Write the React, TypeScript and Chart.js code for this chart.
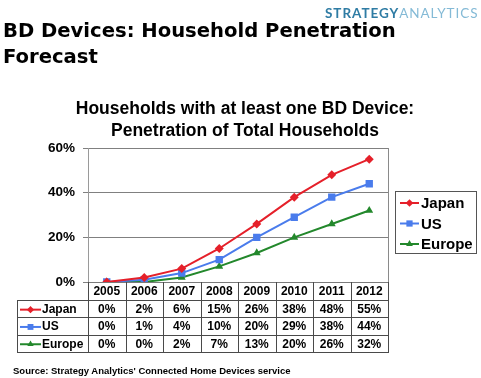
import React, { useEffect, useRef } from 'react';
import { Chart, registerables } from 'chart.js';
import { drawPoint } from 'chart.js/helpers';
Chart.register(...registerables);

const years = ['2005', '2006', '2007', '2008', '2009', '2010', '2011', '2012'];
const seriesNames = ['Japan', 'US', 'Europe'];
const japan = [0, 2, 6, 15, 26, 38, 48, 55];
const us = [0, 1, 4, 10, 20, 29, 38, 44];
const europe = [0, 0, 2, 7, 13, 20, 26, 32];
const seriesValues = [japan, us, europe];
const seriesColors = ['#e5202a', '#4a7cec', '#23882c'];
const seriesPoints = ['rectRot', 'rect', 'triangle'];
const seriesRadius = [4.5, 5.2, 4.6];
const yMax = 60;
const yStep = 20;

const tablePlugin = {
  id: 'tableLegend',
  afterDraw(chart: any) {
    const { ctx, chartArea, scales } = chart;
    const { left, right, top, bottom } = chartArea;
    const x = scales.x;
    const colW = (right - left) / years.length;
    const headerB = bottom + 18;
    const rowH = 17.3;
    const tableB = headerB + rowH * 3;
    const tableL = 17;
    const ds = chart.data.datasets;
    ctx.save();
    ctx.strokeStyle = '#4a4a4a';
    ctx.lineWidth = 1;
    const hline = (y: number, x0: number, x1: number) => {
      const yy = Math.round(y) + 0.5;
      ctx.beginPath(); ctx.moveTo(x0, yy); ctx.lineTo(x1, yy); ctx.stroke();
    };
    const vline = (xx: number, y0: number, y1: number) => {
      const xv = Math.round(xx) + 0.5;
      ctx.beginPath(); ctx.moveTo(xv, y0); ctx.lineTo(xv, y1); ctx.stroke();
    };
    for (let r = 0; r <= 3; r++) hline(headerB + rowH * r, tableL, right);
    vline(tableL, Math.round(headerB) + 0.5, Math.round(tableB) + 1);
    for (let i = 0; i <= years.length; i++) {
      vline(left + i * colW, bottom, Math.round(tableB) + 1);
    }
    ctx.strokeStyle = '#8a8a8a';
    vline(right, top, bottom);

    ctx.fillStyle = '#000';
    ctx.textBaseline = 'middle';
    ctx.textAlign = 'center';
    ctx.font = 'bold 12px "Liberation Sans", Arial, sans-serif';
    years.forEach((yr, i) => {
      ctx.fillText(yr, x.getPixelForValue(i), (bottom + headerB) / 2 + 1);
    });
    ds.forEach((d: any, r: number) => {
      const cy = headerB + rowH * r + rowH / 2 + 1;
      d.data.forEach((v: number, i: number) => {
        ctx.fillStyle = '#000';
        ctx.textAlign = 'center';
        ctx.fillText(v + '%', x.getPixelForValue(i), cy);
      });
      ctx.strokeStyle = d.borderColor;
      ctx.fillStyle = d.borderColor;
      ctx.lineWidth = 2;
      ctx.beginPath(); ctx.moveTo(20, cy); ctx.lineTo(41, cy); ctx.stroke();
      drawPoint(ctx, { pointStyle: d.pointStyle, radius: d.pointRadius * 0.8, rotation: 0, borderWidth: 0 }, 30.5, cy);
      ctx.fillStyle = '#000';
      ctx.textAlign = 'left';
      ctx.fillText(d.label, 42, cy);
    });

    const lx = right + 7;
    const ly = 191;
    ctx.strokeStyle = '#555';
    ctx.lineWidth = 1;
    ctx.strokeRect(Math.round(lx) + 0.5, ly + 0.5, 81, 62);
    ctx.font = 'bold 15px "Liberation Sans", Arial, sans-serif';
    ds.forEach((d: any, r: number) => {
      const cy = ly + 12 + r * 20.5;
      ctx.strokeStyle = d.borderColor;
      ctx.fillStyle = d.borderColor;
      ctx.lineWidth = 2;
      ctx.beginPath(); ctx.moveTo(lx + 5, cy); ctx.lineTo(lx + 24, cy); ctx.stroke();
      drawPoint(ctx, { pointStyle: d.pointStyle, radius: d.pointRadius * 0.85, rotation: 0, borderWidth: 0 }, lx + 14.5, cy);
      ctx.fillStyle = '#000';
      ctx.textAlign = 'left';
      ctx.fillText(d.label, lx + 26, cy + 1);
    });
    ctx.restore();
  },
};

export default function App() {
  const ref = useRef<HTMLCanvasElement>(null);
  useEffect(() => {
    document.body.style.margin = '0';
    const chart = new Chart(ref.current!, {
      type: 'line',
      data: {
        labels: years,
        datasets: seriesNames.map((name, i) => ({
          label: name,
          data: seriesValues[i],
          borderColor: seriesColors[i],
          backgroundColor: seriesColors[i],
          pointStyle: seriesPoints[i] as any,
          pointRadius: seriesRadius[i],
          pointBorderWidth: 0,
          borderWidth: 2,
          tension: 0,
        })),
      },
      options: {
        animation: false,
        responsive: false,
        layout: { padding: { left: 0, right: 93, top: 148, bottom: 96 } },
        plugins: { legend: { display: false }, title: { display: false }, tooltip: { enabled: false } },
        scales: {
          x: {
            type: 'category',
            offset: true,
            grid: { display: false },
            ticks: { display: false },
            border: { display: true, color: '#7a7a7a', width: 1 },
            afterFit: (s: any) => { s.height = 0; },
          },
          y: {
            min: 0,
            max: yMax,
            ticks: {
              stepSize: yStep,
              padding: 8,
              color: '#000',
              font: { family: '"Liberation Sans", Arial, sans-serif', size: 13.5, weight: 'bold' },
              callback: (v: any) => v + '%',
            },
            grid: { color: '#808080', tickLength: 5, drawTicks: true },
            border: { display: true, color: '#9a9a9a', width: 1 },
            afterFit: (s: any) => { s.width = 88; },
          },
        },
      },
      plugins: [tablePlugin],
    });
    return () => chart.destroy();
  }, []);

  return (
    <div style={{ position: 'relative', width: 481, height: 378, background: '#fff', overflow: 'hidden' }}>
      <canvas ref={ref} width={481} height={378} style={{ position: 'absolute', left: 0, top: 0 }} />
      <div style={{ position: 'absolute', left: 325, top: 5, whiteSpace: 'nowrap', font: '600 13.5px Lato, "Open Sans", sans-serif', letterSpacing: '0.95px', lineHeight: '16px' }}>
        <span style={{ color: '#2f7ca4', fontWeight: 700 }}>STRATEGY</span>
        <span style={{ color: '#84bad6', fontWeight: 400 }}>ANALYTICS</span>
      </div>
      <div style={{ position: 'absolute', left: 3, top: 17.7, whiteSpace: 'nowrap', font: 'bold 19.6px "DejaVu Sans", sans-serif', lineHeight: '26px', color: '#000' }}>
        BD Devices: Household Penetration<br />Forecast
      </div>
      <div style={{ position: 'absolute', left: 0, width: 490, top: 97, textAlign: 'center', whiteSpace: 'nowrap', font: 'bold 17.5px "Liberation Sans", Arial, sans-serif', lineHeight: '22px', color: '#000' }}>
        Households with at least one BD Device:<br />Penetration of Total Households
      </div>
      <div style={{ position: 'absolute', left: 13, top: 364.5, whiteSpace: 'nowrap', font: 'bold 9.5px "Liberation Sans", Arial, sans-serif', lineHeight: '12px', color: '#000' }}>
        Source: Strategy Analytics' Connected Home Devices service
      </div>
    </div>
  );
}
